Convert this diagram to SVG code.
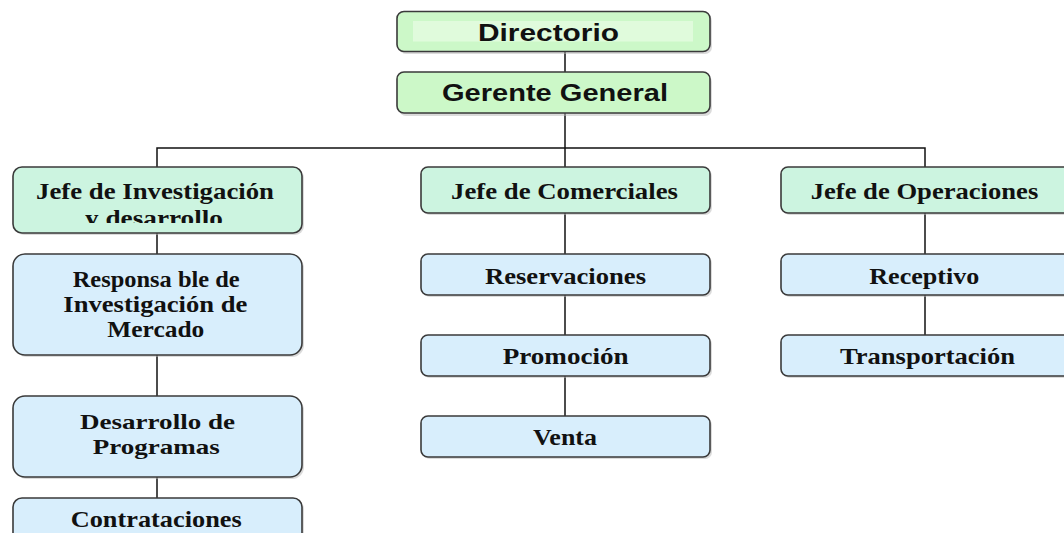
<svg xmlns="http://www.w3.org/2000/svg" width="1064" height="533" viewBox="0 0 1064 533">
<style>
.box{stroke:#3a3a3a;stroke-width:1.6}
.top{fill:#ccf8c8}
.jefe{fill:#ccf4e0}
.sub{fill:#d8eefc}
.sh{fill:#b8b8b8;opacity:0.5}
.a{font-family:"Liberation Sans",Arial,sans-serif;font-weight:bold;font-size:23px;fill:#111;text-anchor:start}
.s{font-family:"Liberation Serif","Times New Roman",serif;font-weight:bold;font-size:22.5px;fill:#111;text-anchor:start}
.s2{font-size:21px}
.ln{stroke:#111;stroke-width:1.5;fill:none}
</style>
<defs>
<clipPath id="clipInv"><rect x="0" y="160" width="320" height="63"/></clipPath>
</defs>
<rect width="1064" height="533" fill="#ffffff"/>
<g id="connectors">
<line class="ln" x1="565" y1="51" x2="565" y2="72"/>
<line class="ln" x1="565" y1="113" x2="565" y2="148"/>
<polyline class="ln" points="157,167 157,148 925,148 925,167"/>
<line class="ln" x1="565" y1="148" x2="565" y2="167"/>
<line class="ln" x1="157" y1="233" x2="157" y2="254"/>
<line class="ln" x1="157" y1="355" x2="157" y2="396"/>
<line class="ln" x1="157" y1="477" x2="157" y2="498"/>
<line class="ln" x1="565" y1="213" x2="565" y2="254"/>
<line class="ln" x1="565" y1="295" x2="565" y2="335"/>
<line class="ln" x1="565" y1="376" x2="565" y2="416"/>
<line class="ln" x1="925" y1="213" x2="925" y2="254"/>
<line class="ln" x1="925" y1="295" x2="925" y2="335"/>
</g>
<g id="directorio">
<rect class="sh" x="399" y="14" width="313" height="40" rx="7"/>
<rect class="box top" x="397" y="11.5" width="313" height="40" rx="7"/>
<rect x="413" y="21" width="280" height="20.5" fill="#e0fbdc"/>
<text class="a" x="478" y="40.5" textLength="141" lengthAdjust="spacingAndGlyphs">Directorio</text>
</g>
<g id="gerente">
<rect class="sh" x="399" y="75" width="313" height="41" rx="7"/>
<rect class="box top" x="397" y="72" width="313" height="41" rx="7"/>
<text class="a" x="442" y="101" textLength="226" lengthAdjust="spacingAndGlyphs">Gerente General</text>
</g>
<g id="jefe-investigacion">
<rect class="sh" x="15" y="169" width="289" height="66" rx="9"/>
<rect class="box jefe" x="13" y="167" width="289" height="66" rx="9"/>
<text class="s" x="36" y="198.5" textLength="238" lengthAdjust="spacingAndGlyphs">Jefe de Investigación</text>
<g clip-path="url(#clipInv)"><text class="s" x="85" y="225.5" textLength="138" lengthAdjust="spacingAndGlyphs">y desarrollo</text></g>
</g>
<g id="responsable">
<rect class="sh" x="15" y="256" width="289" height="101" rx="12"/>
<rect class="box sub" x="13" y="254" width="289" height="101" rx="12"/>
<text class="s" x="72.7" y="287" textLength="167" lengthAdjust="spacingAndGlyphs">Responsa ble de</text>
<text class="s" x="63.3" y="312" textLength="184" lengthAdjust="spacingAndGlyphs">Investigación de</text>
<text class="s" x="107.3" y="337" textLength="97" lengthAdjust="spacingAndGlyphs">Mercado</text>
</g>
<g id="desarrollo">
<rect class="sh" x="15" y="398" width="289" height="81" rx="12"/>
<rect class="box sub" x="13" y="396" width="289" height="81" rx="12"/>
<text class="s s2" x="80" y="429.3" textLength="155" lengthAdjust="spacingAndGlyphs">Desarrollo de</text>
<text class="s s2" x="92.7" y="453.5" textLength="127" lengthAdjust="spacingAndGlyphs">Programas</text>
</g>
<g id="contrataciones">
<rect class="sh" x="15" y="500" width="289" height="60" rx="9"/>
<rect class="box sub" x="13" y="498" width="289" height="60" rx="9"/>
<text class="s" x="70.7" y="527" textLength="171" lengthAdjust="spacingAndGlyphs">Contrataciones</text>
</g>
<g id="jefe-comerciales">
<rect class="sh" x="423" y="169" width="289" height="46" rx="7"/>
<rect class="box jefe" x="421" y="167" width="289" height="46" rx="7"/>
<text class="s" x="451" y="198.5" textLength="227" lengthAdjust="spacingAndGlyphs">Jefe de Comerciales</text>
</g>
<g id="reservaciones">
<rect class="sh" x="423" y="256" width="289" height="41" rx="7"/>
<rect class="box sub" x="421" y="254" width="289" height="41" rx="7"/>
<text class="s" x="485" y="283.5" textLength="161" lengthAdjust="spacingAndGlyphs">Reservaciones</text>
</g>
<g id="promocion">
<rect class="sh" x="423" y="337" width="289" height="41" rx="7"/>
<rect class="box sub" x="421" y="335" width="289" height="41" rx="7"/>
<text class="s" x="502.7" y="364" textLength="126" lengthAdjust="spacingAndGlyphs">Promoción</text>
</g>
<g id="venta">
<rect class="sh" x="423" y="418" width="289" height="41" rx="7"/>
<rect class="box sub" x="421" y="416" width="289" height="41" rx="7"/>
<text class="s" x="533" y="445" textLength="64" lengthAdjust="spacingAndGlyphs">Venta</text>
</g>
<g id="jefe-operaciones">
<rect class="sh" x="783" y="169" width="289" height="46" rx="7"/>
<rect class="box jefe" x="781" y="167" width="289" height="46" rx="7"/>
<text class="s" x="810.7" y="198.5" textLength="227.6" lengthAdjust="spacingAndGlyphs">Jefe de Operaciones</text>
</g>
<g id="receptivo">
<rect class="sh" x="783" y="256" width="289" height="41" rx="7"/>
<rect class="box sub" x="781" y="254" width="289" height="41" rx="7"/>
<text class="s" x="869.3" y="283.5" textLength="110" lengthAdjust="spacingAndGlyphs">Receptivo</text>
</g>
<g id="transportacion">
<rect class="sh" x="783" y="337" width="289" height="41" rx="7"/>
<rect class="box sub" x="781" y="335" width="289" height="41" rx="7"/>
<text class="s" x="840" y="364" textLength="175" lengthAdjust="spacingAndGlyphs">Transportación</text>
</g>
</svg>
